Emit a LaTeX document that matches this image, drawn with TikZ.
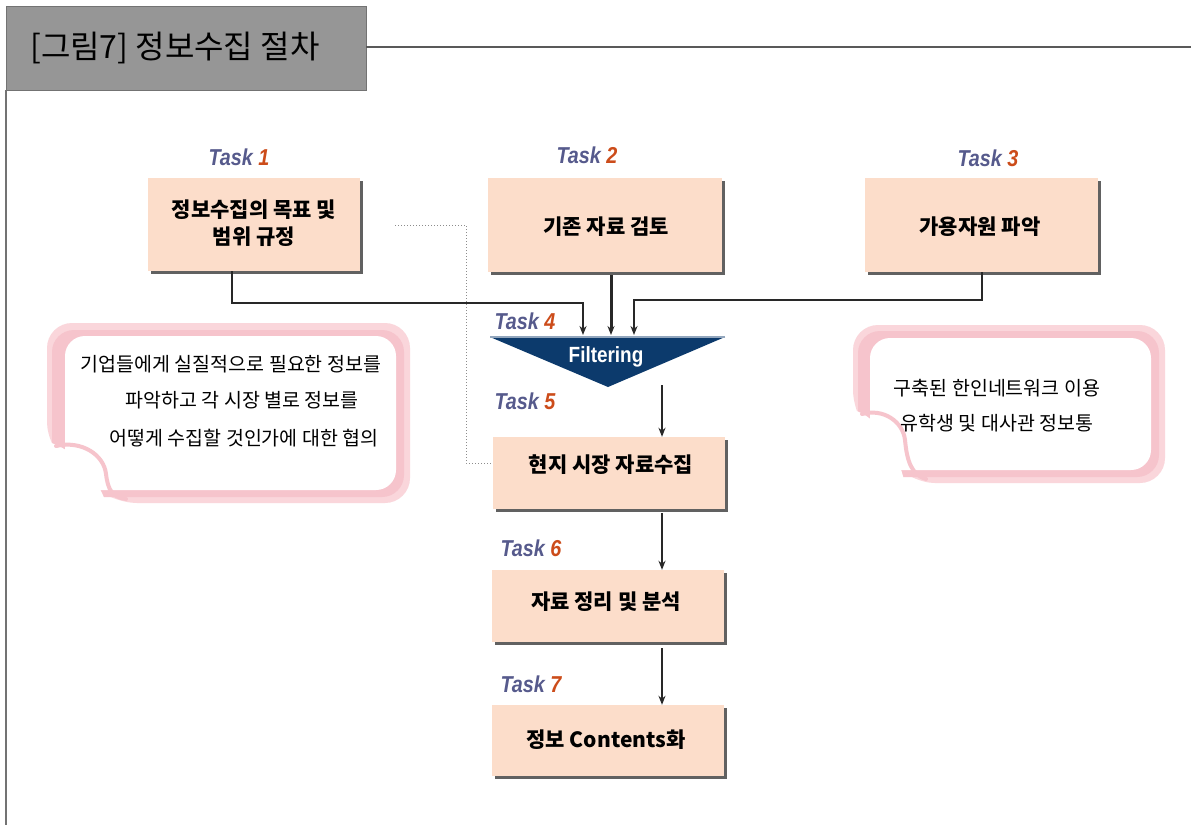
\documentclass[tikz,border=0pt]{standalone}
\usepackage{fontspec}
\newfontfamily\kr{Noto Sans CJK KR}
\newfontfamily\arn[FakeStretch=0.86]{Liberation Sans}
\usetikzlibrary{arrows.meta,shadows}
\definecolor{peach}{RGB}{252,221,202}
\definecolor{hdrgray}{RGB}{150,150,150}
\definecolor{navy}{RGB}{12,58,108}
\definecolor{tasknum}{RGB}{204,76,26}
\definecolor{taskword}{RGB}{86,90,140}
\definecolor{pinkb}{RGB}{250,214,219}
\definecolor{pinkc}{RGB}{246,196,204}
\definecolor{conn}{RGB}{40,40,40}
\newcommand\tasklab[1]{{\arn\fontsize{23}{26}\selectfont\bfseries\itshape\textcolor{taskword}{Task} \textcolor{tasknum}{#1}}}
\tikzset{
  stepbox/.style={fill=peach, inner sep=0pt,
    general shadow={fill=black!62, shadow xshift=3pt, shadow yshift=-3pt}},
  boxtext/.style={font=\kr\bfseries\fontsize{21}{27}\selectfont, inner sep=0pt, align=center},
  notetext/.style={font=\kr\fontsize{19.5}{22}\selectfont, inner sep=0pt},
  tasktag/.style={inner sep=0pt},
  link/.style={draw=conn, line width=1.5pt},
  tip/.style={-{Stealth[length=9pt,width=7pt]}},
}
\begin{document}
\begin{tikzpicture}[x=1pt,y=-1pt]
\useasboundingbox (0,0) rectangle (1191,825);
\fill[white] (0,0) rectangle (1191,825);

% header
\node[draw=black!55, fill=hdrgray, minimum width=360pt, minimum height=84pt, inner sep=0pt] (hdr) at (186,48) {};
\node[anchor=west, inner sep=0pt, font=\kr\fontsize{32}{35}\selectfont] (ttl) at (30,48) {[그림7] 정보수집 절차};
\coordinate (hr) at (1191,46.5);
\coordinate (vl) at (7,825);
\draw[black!65, line width=2pt] (hdr.east |- hr) -- (hr);
\draw[black!55, line width=2pt] (hdr.south west) -- (hdr.south west |- vl);

% callouts (drawn shapes)
\fill[pinkb, rounded corners=25] (47,447) -- (47,323) -- (410,323) -- (410,503) -- (112,503) -- cycle;
\fill[pinkc, rounded corners=22] (52,330) rectangle (404,497);
\fill[white, rounded corners=20] (65,336) rectangle (396,490);
\fill[white] (40,440) .. controls (70,445) and (95,470) .. (108,508) -- (40,508) -- cycle;
\draw[pinkc, line width=4pt, line cap=round] (56,446) .. controls (82,440) and (104,455) .. (106,474) .. controls (108,490) and (112,497) .. (126,499);

\fill[pinkb, rounded corners=25] (853,415) -- (853,325) -- (1165,325) -- (1165,483) -- (910,483) -- cycle;
\fill[pinkc, rounded corners=22] (858,331) rectangle (1159,477);
\fill[white, rounded corners=20] (870,338) rectangle (1151,470);
\fill[white] (846,408) .. controls (875,413) and (895,440) .. (906,488) -- (846,488) -- cycle;
\draw[pinkc, line width=4pt, line cap=round] (862,414) .. controls (884,408) and (903,422) .. (905,440) .. controls (907,462) and (912,475) .. (926,479);

\node[notetext] (n1a) at (231,364) {기업들에게 실질적으로 필요한 정보를};
\node[notetext] (n1b) at (242,400) {파악하고 각 시장 별로 정보를};
\node[notetext] (n1c) at (244,438) {어떻게 수집할 것인가에 대한 협의};
\node[notetext] (n3a) at (997,388) {구축된 한인네트워크 이용};
\node[notetext] (n3b) at (997,423) {유학생 및 대사관 정보통};

% boxes
\node[stepbox, minimum width=212pt, minimum height=93pt] (b1) at (254,224.5) {};
\node[stepbox, minimum width=234pt, minimum height=94pt] (b2) at (605,225) {};
\node[stepbox, minimum width=233pt, minimum height=94pt] (b3) at (981.5,225) {};
\node[stepbox, minimum width=232pt, minimum height=72pt] (b5) at (609,473) {};
\node[stepbox, minimum width=232pt, minimum height=72pt] (b6) at (608,606) {};
\node[stepbox, minimum width=232pt, minimum height=71pt] (b7) at (608,740.5) {};

\node[boxtext] (t1) at (254,223.5) {정보수집의 목표 및\\범위 규정};
\node[boxtext] (t2) at (606,227) {기존 자료 검토};
\node[boxtext] (t3) at (980,227) {가용자원 파악};
\node[boxtext] (t5) at (611,465) {현지 시장 자료수집};
\node[boxtext] (t6) at (606,602) {자료 정리 및 분석};
\node[boxtext] (t7) at (606,740) {정보 Contents화};

% task labels
\node[tasktag] (k1) at (239,157) {\tasklab{1}};
\node[tasktag] (k2) at (587,155) {\tasklab{2}};
\node[tasktag] (k3) at (988,158) {\tasklab{3}};
\node[tasktag] (k4) at (525,321) {\tasklab{4}};
\node[tasktag] (k5) at (525,401) {\tasklab{5}};
\node[tasktag] (k6) at (531,548) {\tasklab{6}};
\node[tasktag] (k7) at (531,684) {\tasklab{7}};

% filtering triangle
\coordinate (tl) at (490,337);
\coordinate (tr) at (725,337);
\coordinate (tb) at (608,387);
\fill[navy] (tl) -- (tr) -- (tb) -- cycle;
\draw[navy!45!white, line width=1.2pt] (tl) -- (tr);
\node[inner sep=0pt, text=white, font=\arn\fontsize{22}{24}\selectfont\bfseries] (filt) at (606,357) {Filtering};

% connectors into filtering
\coordinate (c1) at (232,0);
\coordinate (c1y) at (0,303);
\coordinate (e1) at (583,335);
\coordinate (e2) at (611,335);
\coordinate (c3) at (982,0);
\coordinate (c3y) at (0,300);
\coordinate (e3) at (634,335);
\draw[link, tip] (b1.south -| c1) -- (c1 |- c1y) -- (e1 |- c1y) -- (e1);
\draw[link, line width=3pt, tip] (b2.south -| e2) ++(0,3) -- (e2);
\draw[link, tip] (b3.south -| c3) -- (c3 |- c3y) -- (e3 |- c3y) -- (e3);

% dotted link
\coordinate (d0) at (395,225);
\coordinate (d1) at (466,225);
\coordinate (d2) at (466,463);
\draw[black!45, dotted, line width=1pt] (d0) -- (d1) -- (d2) -- (b5.west |- d2);

% downward arrows
\coordinate (a5) at (662,385);
\draw[link, tip] (a5) -- (b5.north -| a5);
\draw[link, tip, shorten <=4pt] (b5.south -| a5) -- (b6.north -| a5);
\draw[link, tip, shorten <=6pt] (b6.south -| a5) -- (b7.north -| a5);
\end{tikzpicture}
\end{document}
